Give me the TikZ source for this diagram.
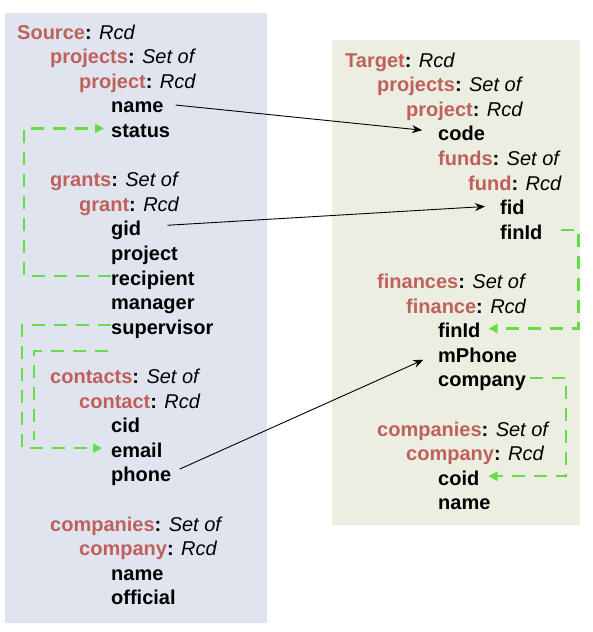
\documentclass[tikz,border=0pt]{standalone}
\usepackage{fontspec}
\setmainfont{Liberation Sans}
\usepackage{tikz}
\usetikzlibrary{arrows.meta}
\usepackage{xcolor}

\definecolor{hdred}{HTML}{C0605A}
\definecolor{srcbg}{HTML}{DFE4EF}
\definecolor{tgtbg}{HTML}{ECEEE1}
\definecolor{flowgreen}{HTML}{66DD44}

\newcommand{\rcd}[1]{\textcolor{hdred}{#1}: {\mdseries\itshape Rcd}}
\newcommand{\setof}[1]{\textcolor{hdred}{#1}: {\mdseries\itshape Set of}}

\begin{document}
\begin{tikzpicture}[x=1pt, y=-1pt,
  fld/.style={anchor=base west, inner sep=0pt, text height=18pt, text depth=0pt,
    font=\fontsize{20}{24}\selectfont\bfseries},
  map/.style={line width=0.9pt, -{Stealth[length=10pt, width=8pt]}},
  flow/.style={draw=flowgreen, line width=2.5pt, dash pattern=on 13pt off 9pt,
    -{Triangle[length=9pt, width=9pt]}}]
  \useasboundingbox (0, 0) rectangle (593, 632);
  \fill[srcbg] (5, 13) rectangle (267, 623);
  \fill[tgtbg] (332, 40) rectangle (580, 525);

  % Source nodes
  \node[fld] (src) at (17, 39) {\rcd{Source}};
  \node[fld] (sprojs) at (50, 63.6) {\setof{projects}};
  \node[fld] (sproj) at (79, 88.2) {\rcd{project}};
  \node[fld] (sname) at (111, 112.8) {name};
  \node[fld] (sstatus) at (111, 137.4) {status};

  \node[fld] (sgrants) at (50, 186.6) {\setof{grants}};
  \node[fld] (sgrant) at (79, 211.2) {\rcd{grant}};
  \node[fld] (sgid) at (111, 235.8) {gid};
  \node[fld] (sgproj) at (111, 260.4) {project};
  \node[fld] (srecip) at (111, 285) {recipient};
  \node[fld] (smanager) at (111, 309.6) {manager};
  \node[fld] (ssuper) at (111, 334.2) {supervisor};

  \node[fld] (sconts) at (50, 383.4) {\setof{contacts}};
  \node[fld] (scont) at (79, 408) {\rcd{contact}};
  \node[fld] (scid) at (111, 432.6) {cid};
  \node[fld] (semail) at (111, 457.2) {email};
  \node[fld] (sphone) at (111, 481.8) {phone};

  \node[fld] (scomps) at (50, 531) {\setof{companies}};
  \node[fld] (scomp) at (79, 555.6) {\rcd{company}};
  \node[fld] (scname) at (111, 580.2) {name};
  \node[fld] (soff) at (111, 604.8) {official};

  % Target nodes
  \node[fld] (tgt) at (345, 67) {\rcd{Target}};
  \node[fld] (tprojs) at (377, 91.6) {\setof{projects}};
  \node[fld] (tproj) at (406, 116.2) {\rcd{project}};
  \node[fld] (tcode) at (438, 140.8) {code};
  \node[fld] (tfunds) at (438, 165.4) {\setof{funds}};
  \node[fld] (tfund) at (468, 190) {\rcd{fund}};
  \node[fld] (tfid) at (500, 214.6) {fid};
  \node[fld] (tfinid) at (500, 239.2) {finId};

  \node[fld] (tfins) at (377, 288.4) {\setof{finances}};
  \node[fld] (tfin) at (406, 313) {\rcd{finance}};
  \node[fld] (tfinidb) at (438, 337.6) {finId};
  \node[fld] (tmphone) at (438, 362.2) {mPhone};
  \node[fld] (tcomp) at (438, 386.8) {company};

  \node[fld] (tcomps) at (377, 436) {\setof{companies}};
  \node[fld] (tcompy) at (406, 460.6) {\rcd{company}};
  \node[fld] (tcoid) at (438, 485.2) {coid};
  \node[fld] (tcname) at (438, 509.8) {name};

  \coordinate (sgap) at (108, 351);
  \coordinate (sjoin) at (34, 440);

  % Mappings
  \draw[map, shorten <=12pt, shorten >=16pt] (sname.east) -- (tcode.west);
  \draw[map, shorten <=26pt, shorten >=15pt] (sgid.east) -- (tfid.west);
  \draw[map, shorten <=9pt, shorten >=16pt] (sphone.east) -- (tmphone.west);

  % Foreign keys
  \draw[flow, shorten >=7pt] (srecip.west) -- ++(-87, 0) |- (sstatus.west);
  \draw[flow, shorten >=9pt] (ssuper.west) -- ++(-89, 0) |- (semail.west);
  \draw[flow, -] (sgap) -| (sjoin);
  \draw[flow, shorten <=18pt, shorten >=8pt] (tfinid.east) -- ++(36, 0) |- (tfinidb.east);
  \draw[flow, shorten <=4pt, shorten >=9pt] (tcomp.east) -- ++(40, 0) |- (tcoid.east);
\end{tikzpicture}
\end{document}
